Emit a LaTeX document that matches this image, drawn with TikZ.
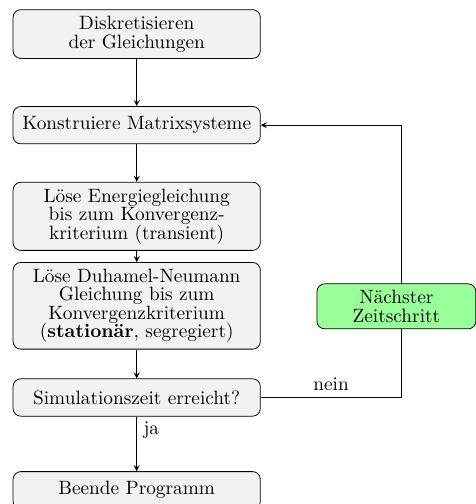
\documentclass[tikz,border=0pt]{standalone}
\begin{document}
\begin{tikzpicture}[>=stealth,
  box/.style={draw, rounded corners, fill=gray!10, text width=4.27cm, align=center, minimum height=0.68cm, font=\linespread{0.8}\selectfont},
  zeitbox/.style={draw, rounded corners, fill=green!40, text width=2.66cm, align=center, font=\linespread{0.8}\selectfont}]
\useasboundingbox (0,0) rectangle (8.67,-9.18);
\node [box] (diskret) at (2.49,-0.62) {Diskretisieren\\der Gleichungen};
\node [box] (matrix) at (2.49,-2.28) {Konstruiere Matrixsysteme};
\node [box] (energie) at (2.49,-3.94) {Löse Energiegleichung\\bis zum Konvergenz-\\kriterium (transient)};
\node [box] (duhamel) at (2.49,-5.57) {Löse Duhamel-Neumann\\Gleichung bis zum\\Konvergenzkriterium\\(\textbf{stationär}, segregiert)};
\node [box] (simzeit) at (2.49,-7.24) {Simulationszeit erreicht?};
\node [box] (ende) at (2.49,-8.93) {Beende Programm};
\coordinate (unten) at (7.31,-7.24);
\coordinate (oben) at (7.31,-2.28);
\draw [->] (diskret) -- (matrix);
\draw [->] (matrix) -- (energie);
\draw [->] (energie) -- (duhamel);
\draw [->] (duhamel) -- (simzeit);
\draw [->] (simzeit) -- node [right, pos=0.25]{ja} (ende);
\draw [->] (simzeit.east) -- node [above]{nein} (unten) -- (oben) -- (matrix.east);
\node [zeitbox] (naechster) at (7.22,-5.58) {Nächster\\Zeitschritt};
\end{tikzpicture}
\end{document}
